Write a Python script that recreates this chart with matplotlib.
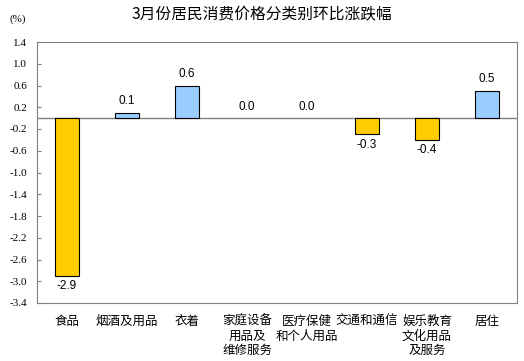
import matplotlib.pyplot as plt
import numpy as np

categories = ["食品", "烟酒及用品", "衣着", "家庭设备\n用品及\n维修服务",
              "医疗保健\n和个人用品", "交通和通信", "娱乐教育\n文化用品\n及服务", "居住"]
values = [-2.9, 0.1, 0.6, 0.0, 0.0, -0.3, -0.4, 0.5]
yticks = [1.4, 1.0, 0.6, 0.2, -0.2, -0.6, -1.0, -1.4, -1.8, -2.2, -2.6, -3.0, -3.4]

cjk = ['Noto Sans CJK SC', 'DejaVu Sans']

fig = plt.figure(figsize=(5.24, 3.61), dpi=100)
ax = fig.add_axes([37 / 524, 1 - 303 / 361, 480 / 524, 261 / 361])

x = np.arange(len(categories))
colors = ['#FFCC00' if v < 0 else '#99CCFF' for v in values]
edges = ['black' if v != 0 else 'none' for v in values]
ax.bar(x, values, width=0.4, color=colors, edgecolor=edges, linewidth=0.8, zorder=3)

ax.set_xlim(-0.5, len(categories) - 0.5)
ax.set_ylim(-3.4, 1.4)
ax.axhline(0, color='#808080', linewidth=1, zorder=2)

for spine in ax.spines.values():
    spine.set_color('#808080')
    spine.set_linewidth(0.8)

ax.set_yticks(yticks)
ax.set_yticklabels([f"{t:.1f}" for t in yticks], family='Liberation Serif', fontsize=8)
ax.tick_params(axis='y', direction='in', length=3, color='#808080', pad=7)
ax.set_xticks([])

for xi, v in zip(x, values):
    if v < 0:
        ax.annotate(f"{v:.1f}", (xi, v), xytext=(0, -3), textcoords='offset points',
                    ha='center', va='top', fontsize=8.5, family='Liberation Sans')
    else:
        ax.annotate(f"{v:.1f}", (xi, v), xytext=(0, 4), textcoords='offset points',
                    ha='center', va='bottom', fontsize=8.5, family='Liberation Sans')

for xi, c in zip(x, categories):
    ax.text(xi, -3.4 - 0.22, c, ha='center', va='top', fontsize=9, family=cjk,
            linespacing=1.15, clip_on=False)

fig.text(0.5, 1 - 15 / 361, "3月份居民消费价格分类别环比涨跌幅", ha='center', va='center',
         fontsize=11.3, family=cjk)
fig.text(18 / 524, 1 - 19 / 361, "(%)", ha='center', va='center',
         fontsize=8, family='Liberation Serif')

fig.savefig("out.png", dpi=100)
